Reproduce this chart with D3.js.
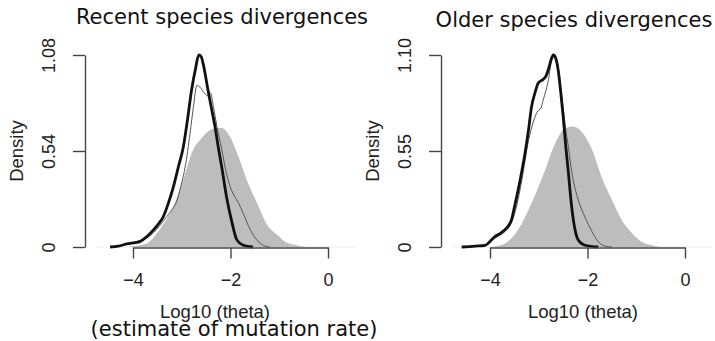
<!DOCTYPE html>
<html>
<head>
<meta charset="utf-8">
<script src="https://cdn.jsdelivr.net/npm/d3@7"></script>
<style>
  body { margin: 0; background: #fff; }
  svg { display: block; }
</style>
</head>
<body>
<div id="chart"></div>
<script>
// Data: log10(theta) values and density values
const recentPriorX = [-4.1, -3.99, -3.72, -3.45, -3.17, -2.97, -2.76, -2.63, -2.46, -2.28, -2.18, -2.01, -1.84, -1.67, -1.46, -1.26, -1.05, -0.85, -0.64, -0.45];
const recentPriorY = [0, 0.005, 0.02, 0.1, 0.23, 0.38, 0.55, 0.6, 0.65, 0.67, 0.67, 0.62, 0.51, 0.38, 0.25, 0.13, 0.07, 0.025, 0.01, 0];

const recentThinX = [-4.47, -4.13, -3.95, -3.86, -3.72, -3.58, -3.45, -3.31, -3.2, -3.1, -3.02, -2.93, -2.83, -2.76, -2.69, -2.63, -2.52, -2.46, -2.43, -2.4, -2.35, -2.28, -2.18, -2.08, -1.98, -1.84, -1.74, -1.6, -1.46, -1.33, -1.2];
const recentThinY = [0, 0.015, 0.03, 0.035, 0.05, 0.08, 0.12, 0.17, 0.21, 0.26, 0.34, 0.45, 0.64, 0.79, 0.91, 0.9, 0.86, 0.85, 0.87, 0.86, 0.79, 0.68, 0.55, 0.41, 0.32, 0.25, 0.19, 0.1, 0.04, 0.01, 0];

const recentThickX = [-4.47, -4.3, -4.13, -3.95, -3.86, -3.72, -3.58, -3.45, -3.38, -3.27, -3.17, -3.07, -2.97, -2.88, -2.8, -2.72, -2.65, -2.6, -2.56, -2.46, -2.39, -2.32, -2.25, -2.18, -2.08, -1.98, -1.87, -1.74, -1.54];
const recentThickY = [0, 0.005, 0.017, 0.025, 0.03, 0.058, 0.096, 0.14, 0.17, 0.25, 0.34, 0.45, 0.56, 0.72, 0.88, 1.0, 1.08, 1.07, 1.03, 0.88, 0.78, 0.68, 0.56, 0.45, 0.28, 0.15, 0.04, 0.01, 0];

const olderPriorX = [-3.95, -3.9, -3.69, -3.42, -3.15, -2.87, -2.67, -2.46, -2.29, -2.12, -1.91, -1.71, -1.5, -1.3, -1.09, -0.89, -0.68, -0.5];
const olderPriorY = [0, 0.003, 0.02, 0.1, 0.25, 0.44, 0.59, 0.68, 0.69, 0.66, 0.56, 0.4, 0.27, 0.155, 0.08, 0.03, 0.01, 0];

const olderThinX = [-4.58, -4.1, -3.9, -3.69, -3.56, -3.45, -3.35, -3.21, -3.12, -3.04, -2.95, -2.91, -2.85, -2.8, -2.75, -2.7, -2.65, -2.6, -2.55, -2.5, -2.45, -2.39, -2.34, -2.29, -2.19, -2.05, -1.91, -1.78, -1.64, -1.5];
const olderThinY = [0, 0.01, 0.05, 0.09, 0.14, 0.24, 0.38, 0.61, 0.71, 0.77, 0.8, 0.84, 0.9, 0.96, 1.05, 1.1, 1.08, 1.03, 0.92, 0.8, 0.68, 0.57, 0.46, 0.38, 0.27, 0.17, 0.09, 0.03, 0.005, 0];

const olderThickX = [-4.58, -4.3, -4.1, -3.9, -3.78, -3.69, -3.56, -3.49, -3.42, -3.35, -3.28, -3.21, -3.15, -3.08, -3.01, -2.91, -2.85, -2.8, -2.75, -2.7, -2.65, -2.6, -2.55, -2.5, -2.45, -2.39, -2.34, -2.29, -2.19, -2.05, -1.78];
const olderThickY = [0, 0.005, 0.01, 0.06, 0.08, 0.1, 0.155, 0.24, 0.33, 0.43, 0.54, 0.67, 0.8, 0.88, 0.94, 0.96, 0.98, 1.02, 1.07, 1.1, 1.08, 1.01, 0.89, 0.75, 0.59, 0.42, 0.27, 0.155, 0.04, 0.01, 0];

const xTicks = [-4, -2, 0];
const recentYTicks = [0, 0.54, 1.08];
const olderYTicks = [0, 0.55, 1.1];

const width = 715;
const height = 341;

const svg = d3
  .select("#chart")
  .append("svg")
  .attr("width", width)
  .attr("height", height);

const zip = (xs, ys) => xs.map((x, i) => ({ x: x, y: ys[i] }));

/**
 * Draw one density panel
 */
function drawPanel(p) {
  const xScale = d3.scaleLinear().domain([-4, 0]).range([p.x0, p.x1]);
  const yScale = d3.scaleLinear().domain([0, p.yMax]).range([247, 55]);

  const g = svg.append("g");

  const area = d3
    .area()
    .x((d) => xScale(d.x))
    .y0(yScale(0))
    .y1((d) => yScale(d.y))
    .curve(d3.curveMonotoneX);

  const line = d3
    .line()
    .x((d) => xScale(d.x))
    .y((d) => yScale(d.y))
    .curve(d3.curveMonotoneX);

  // faint baseline under the curves
  g.append("line")
    .attr("x1", xScale(-4.75))
    .attr("x2", xScale(0.55))
    .attr("y1", yScale(0))
    .attr("y2", yScale(0))
    .attr("stroke", "#ececec")
    .attr("stroke-width", 1);

  // prior, grey filled
  g.append("path")
    .datum(zip(p.priorX, p.priorY))
    .attr("d", area)
    .attr("fill", "#bdbdbd");

  // thin line
  g.append("path")
    .datum(zip(p.thinX, p.thinY))
    .attr("d", line)
    .attr("fill", "none")
    .attr("stroke", "#555")
    .attr("stroke-width", 1);

  // thick line
  g.append("path")
    .datum(zip(p.thickX, p.thickY))
    .attr("d", line)
    .attr("fill", "none")
    .attr("stroke", "#111")
    .attr("stroke-width", 2.8)
    .attr("stroke-linejoin", "round");

  // x axis
  const xAxis = g
    .append("g")
    .attr("transform", `translate(0, ${yScale(0) + 0.5})`)
    .call(
      d3
        .axisBottom(xScale)
        .tickValues(xTicks)
        .tickSize(11)
        .tickSizeOuter(0)
        .tickPadding(15)
        .tickFormat((d) => (d < 0 ? "\u2212" + Math.abs(d) : d))
    );
  xAxis.select(".domain").attr("stroke", "#444").attr("stroke-width", 1.4);
  xAxis.selectAll(".tick line").attr("stroke", "#444").attr("stroke-width", 1.4);
  xAxis
    .selectAll(".tick text")
    .attr("font-family", "Liberation Sans, Arial, sans-serif")
    .attr("font-size", 18)
    .attr("fill", "#222");

  // y axis
  const yAxis = g
    .append("g")
    .attr("transform", `translate(${p.axisX}, 0)`)
    .call(
      d3
        .axisLeft(yScale)
        .tickValues(p.yTicks)
        .tickSize(12)
        .tickSizeOuter(0)
        .tickFormat((d) => (d === 0 ? "0" : d.toFixed(2)))
    );
  yAxis.select(".domain").attr("stroke", "#444").attr("stroke-width", 1.4);
  yAxis.selectAll(".tick line").attr("stroke", "#444").attr("stroke-width", 1.4);
  yAxis
    .selectAll(".tick text")
    .attr("x", null)
    .attr("dy", null)
    .attr("transform", "translate(-30, 0) rotate(-90)")
    .attr("text-anchor", "middle")
    .attr("font-family", "Liberation Sans, Arial, sans-serif")
    .attr("font-size", 18)
    .attr("fill", "#222");

  // axis titles
  g.append("text")
    .attr("transform", `translate(${p.axisX - 62}, 151) rotate(-90)`)
    .attr("text-anchor", "middle")
    .attr("font-family", "Liberation Sans, Arial, sans-serif")
    .attr("font-size", 18.5)
    .attr("fill", "#222")
    .text("Density");

  g.append("text")
    .attr("x", p.labelX)
    .attr("y", 318)
    .attr("text-anchor", "middle")
    .attr("font-family", "Liberation Sans, Arial, sans-serif")
    .attr("font-size", 18.5)
    .attr("fill", "#222")
    .text("Log10 (theta)");

  // panel title
  g.append("text")
    .attr("x", p.titleX)
    .attr("y", p.titleY)
    .attr("text-anchor", "middle")
    .attr("font-family", "DejaVu Sans, sans-serif")
    .attr("font-size", 21)
    .attr("fill", "#111")
    .text(p.title);
}

drawPanel({
  title: "Recent species divergences",
  titleX: 222,
  titleY: 24,
  labelX: 215,
  axisX: 85,
  x0: 133,
  x1: 328,
  yMax: 1.08,
  yTicks: recentYTicks,
  priorX: recentPriorX,
  priorY: recentPriorY,
  thinX: recentThinX,
  thinY: recentThinY,
  thickX: recentThickX,
  thickY: recentThickY,
});

drawPanel({
  title: "Older species divergences",
  titleX: 574,
  titleY: 27,
  labelX: 583,
  axisX: 441,
  x0: 490,
  x1: 685,
  yMax: 1.1,
  yTicks: olderYTicks,
  priorX: olderPriorX,
  priorY: olderPriorY,
  thinX: olderThinX,
  thinY: olderThinY,
  thickX: olderThickX,
  thickY: olderThickY,
});

// extra caption under the left x label
svg
  .append("text")
  .attr("x", 234)
  .attr("y", 336)
  .attr("text-anchor", "middle")
  .attr("font-family", "DejaVu Sans, sans-serif")
  .attr("font-size", 21)
  .attr("fill", "#111")
  .text("(estimate of mutation rate)");
</script>
</body>
</html>
